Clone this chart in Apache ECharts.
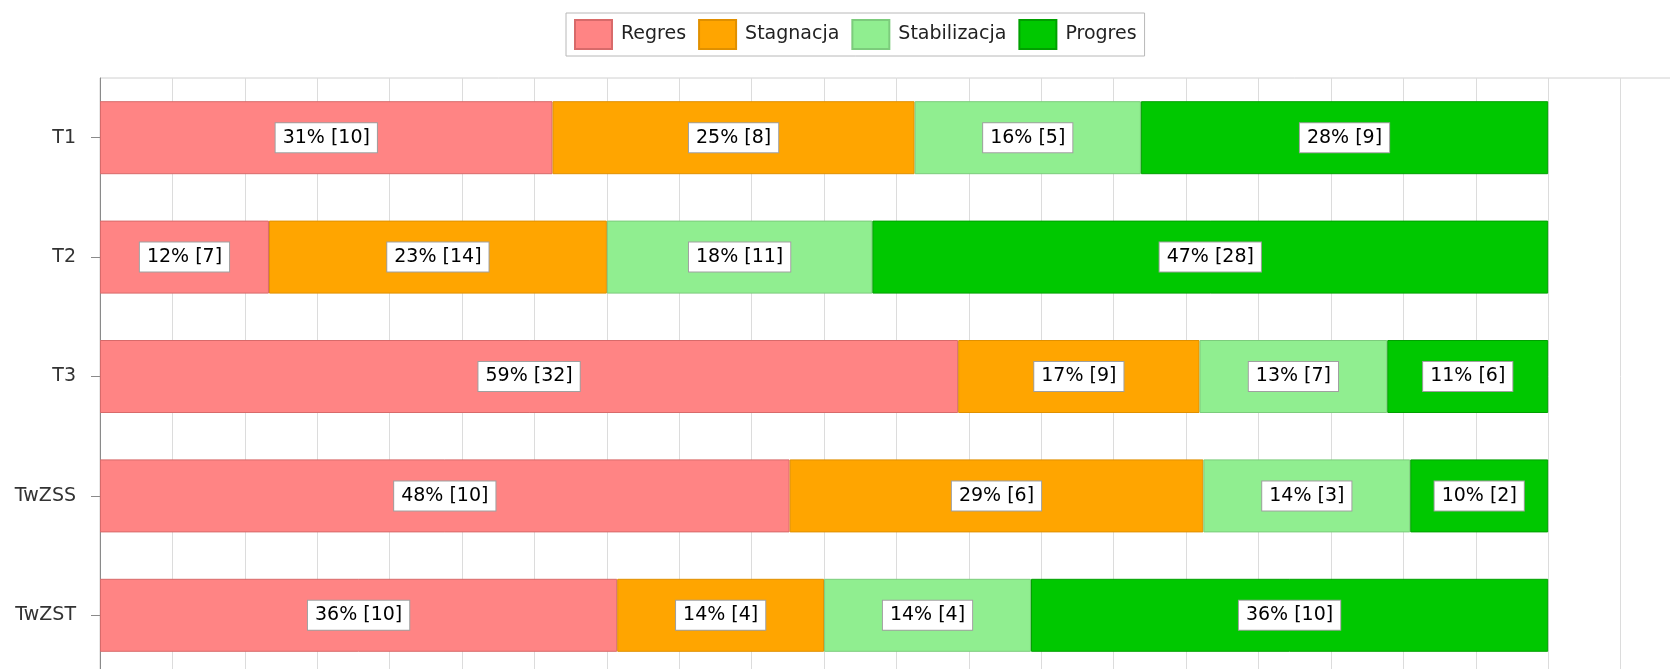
<!DOCTYPE html>
<html>
<head>
<meta charset="utf-8">
<script src="https://cdn.jsdelivr.net/npm/echarts@6/dist/echarts.min.js"></script>
<style>
  html, body { margin: 0; padding: 0; background: #fff; overflow: hidden; }
  /* wykres jest szerszy i wyższy niż okno - prawa i dolna część są obcięte jak w oryginale */
  #chart { width: 1700px; height: 680px; }
</style>
</head>
<body>
<div id="chart"></div>
<script>
// kategorie (od góry)
const categories = ["T1", "T2", "T3", "TwZSS", "TwZST"];

// liczby osób w każdej grupie
const regres = [10, 7, 32, 10, 10];
const stagnacja = [8, 14, 9, 6, 4];
const stabilizacja = [5, 11, 7, 3, 4];
const progres = [9, 28, 6, 2, 10];

const seriesNames = ["Regres", "Stagnacja", "Stabilizacja", "Progres"];
const seriesColors = ["#ff8484", "#ffa500", "#90ee90", "#00c800"];
const borderColors = ["#d86a6a", "#e09000", "#7ccc7c", "#00a000"];

const counts = [regres, stagnacja, stabilizacja, progres];
const totals = categories.map((_, i) => counts.reduce((s, arr) => s + arr[i], 0));

const chart = echarts.init(document.getElementById("chart"));
const font = "DejaVu Sans";

const series = counts.map((arr, k) => ({
  name: seriesNames[k],
  type: "bar",
  stack: "all",
  barWidth: 73,
  data: arr.map((v, i) => ({ value: (v / totals[i]) * 100, count: v })),
  itemStyle: {
    color: seriesColors[k],
    borderColor: borderColors[k],
    borderWidth: 1
  },
  label: {
    show: true,
    position: "inside",
    fontFamily: font,
    fontSize: 19,
    lineHeight: 22,
    color: "#000",
    backgroundColor: "#fff",
    borderColor: "#a0a0a0",
    borderWidth: 1,
    padding: [4, 7, 3, 7],
    formatter: (p) => Math.round(p.value) + "% [" + p.data.count + "]"
  },
  emphasis: { disabled: true }
}));

chart.setOption({
  animation: false,
  textStyle: { fontFamily: font },
  legend: {
    left: 566,
    top: 13,
    padding: [6, 8, 6, 8],
    itemGap: 12,
    itemWidth: 37,
    itemHeight: 29,
    borderColor: "#b8b8b8",
    borderWidth: 1,
    icon: "rect",
    textStyle: { fontFamily: font, fontSize: 19, color: "#222", padding: [0, 0, 0, 4] },
    data: seriesNames
  },
  grid: {
    left: 100,
    top: 78,
    right: 7,
    bottom: 5,
    show: true,
    borderColor: "#d0d0d0",
    borderWidth: 1
  },
  xAxis: {
    type: "value",
    min: 0,
    max: 110,
    interval: 5,
    axisLabel: { show: false },
    axisLine: { show: false },
    axisTick: { show: false },
    splitLine: { show: true, lineStyle: { color: "#dcdcdc", width: 1 } }
  },
  yAxis: {
    type: "category",
    inverse: true,
    data: categories,
    axisLine: { show: true, lineStyle: { color: "#8a8a8a", width: 1 } },
    axisTick: { show: true, alignWithLabel: true, length: 9, lineStyle: { color: "#8a8a8a" } },
    axisLabel: { fontFamily: font, fontSize: 19, color: "#333", margin: 24 },
    splitLine: { show: false }
  },
  series: series
});
</script>
</body>
</html>
